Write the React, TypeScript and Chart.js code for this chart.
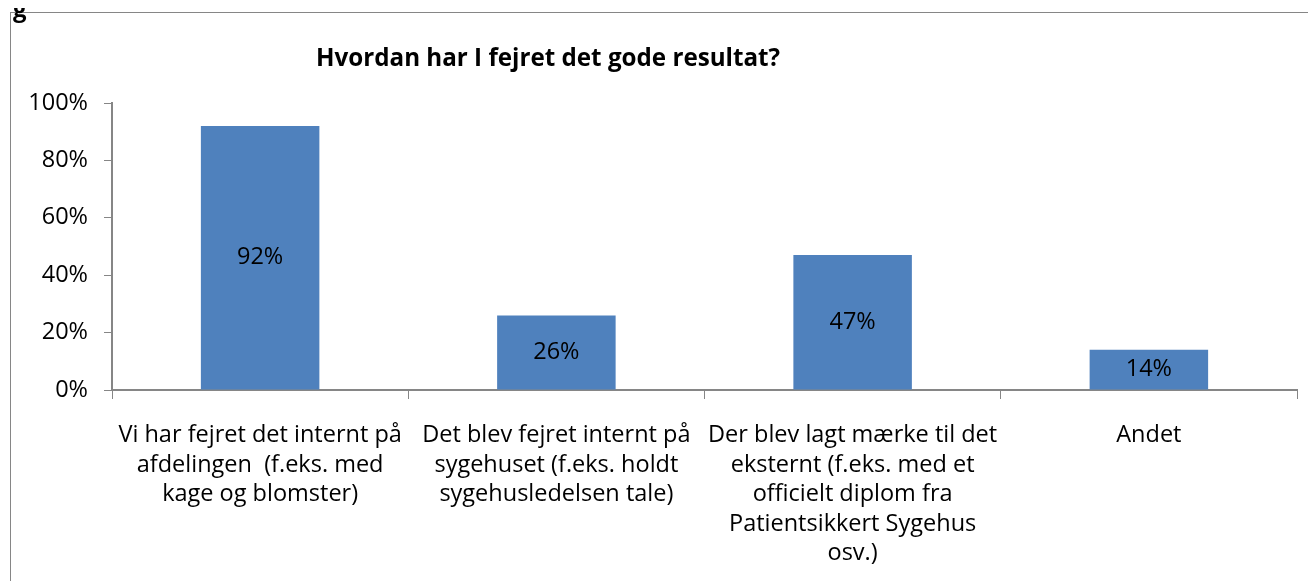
import React, { useEffect, useRef } from "react";
import { Chart, registerables } from "chart.js";

Chart.register(...registerables);

const TITLE = "Hvordan har I fejret det gode resultat?";
const categories: string[][] = [
  ["Vi har fejret det internt på", "afdelingen  (f.eks. med", "kage og blomster)"],
  ["Det blev fejret internt på", "sygehuset (f.eks. holdt", "sygehusledelsen tale)"],
  ["Der blev lagt mærke til det", "eksternt (f.eks. med et", "officielt diplom fra", "Patientsikkert Sygehus", "osv.)"],
  ["Andet"],
];
const values: number[] = [92, 26, 47, 14];
const yTicks: number[] = [0, 20, 40, 60, 80, 100];

const FONT = "'Open Sans', sans-serif";
const BAR = "#4F81BD";
const AXIS = "#868686";
const SIZE = 23.5;

const titlePlugin = {
  id: "customTitle",
  afterDraw(chart: any) {
    const { ctx, chartArea } = chart;
    ctx.save();
    ctx.font = `bold 24.2px ${FONT}`;
    ctx.fillStyle = "#000";
    ctx.textAlign = "center";
    ctx.textBaseline = "middle";
    const x = chartArea.left + (chartArea.right - chartArea.left) * 0.368;
    ctx.fillText(TITLE, x, chartArea.top - 44);
    ctx.restore();
  },
};

const dataLabelPlugin = {
  id: "dataLabels",
  afterDatasetsDraw(chart: any) {
    const { ctx } = chart;
    const meta = chart.getDatasetMeta(0);
    ctx.save();
    ctx.font = `${SIZE}px ${FONT}`;
    ctx.fillStyle = "#000";
    ctx.textAlign = "center";
    ctx.textBaseline = "middle";
    meta.data.forEach((bar: any, i: number) => {
      const y = (bar.y + bar.base) / 2;
      ctx.fillText(values[i] + "%", bar.x, y);
    });
    ctx.restore();
  },
};

export default function App() {
  const ref = useRef<HTMLCanvasElement>(null);
  useEffect(() => {
    if (!ref.current) return;
    const chart = new Chart(ref.current, {
      type: "bar",
      data: {
        labels: categories,
        datasets: [
          {
            data: values,
            backgroundColor: BAR,
            borderWidth: 0,
            barPercentage: 0.4,
            categoryPercentage: 1,
          },
        ],
      },
      options: {
        animation: false,
        responsive: false,
        maintainAspectRatio: false,
        events: [],
        layout: { padding: { top: 90, right: 19, left: 0, bottom: 0 } },
        plugins: { legend: { display: false }, tooltip: { enabled: false }, title: { display: false } },
        scales: {
          x: {
            offset: true,
            grid: {
              offset: true,
              display: true,
              drawOnChartArea: false,
              drawTicks: true,
              tickLength: 9,
              color: AXIS,
              lineWidth: 1,
            },
            border: { display: true, color: AXIS, width: 2 },
            ticks: {
              color: "#000",
              font: { family: FONT, size: SIZE, lineHeight: 1.25 },
              maxRotation: 0,
              minRotation: 0,
              autoSkip: false,
              padding: 22,
            },
            afterFit(scale: any) {
              scale.height = 191;
            },
          },
          y: {
            min: 0,
            max: 100,
            afterBuildTicks(scale: any) {
              scale.ticks = yTicks.map((v) => ({ value: v }));
            },
            grid: {
              display: true,
              drawOnChartArea: false,
              drawTicks: true,
              tickLength: 8,
              color: AXIS,
            },
            border: { display: true, color: AXIS, width: 2 },
            ticks: {
              color: "#000",
              font: { family: FONT, size: SIZE },
              padding: 16,
              callback: (v: any) => v + "%",
            },
            afterFit(scale: any) {
              scale.width = 101;
            },
          },
        },
      },
      plugins: [titlePlugin, dataLabelPlugin],
    });
    return () => chart.destroy();
  }, []);

  return (
    <div style={{ position: "relative" }}>
      <span
        style={{
          position: "absolute",
          top: -21,
          left: 5,
          fontFamily: FONT,
          fontWeight: "bold",
          fontSize: 24,
          color: "#000",
        }}
      >
        g
      </span>
      <div
        style={{
          marginLeft: 2,
          marginTop: 4,
          width: 1306,
          height: 568,
          borderLeft: `1px solid ${AXIS}`,
          borderTop: `1px solid ${AXIS}`,
          overflow: "hidden",
          background: "#fff",
        }}
      >
        <canvas ref={ref} width={1305} height={568} style={{ display: "block" }} />
      </div>
    </div>
  );
}
